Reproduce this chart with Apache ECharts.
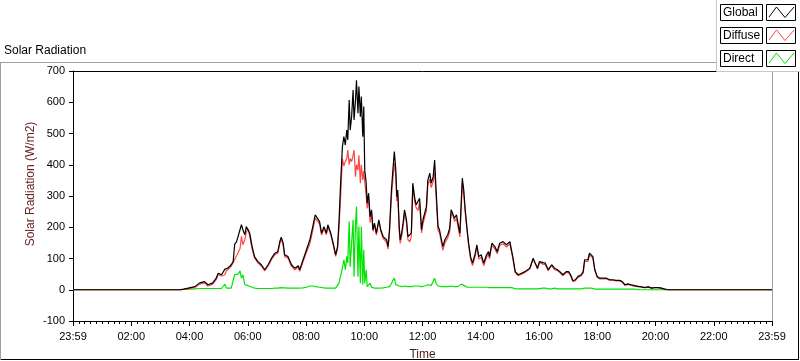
<!DOCTYPE html>
<html>
<head>
<meta charset="utf-8">
<script src="https://cdn.jsdelivr.net/npm/echarts@6/dist/echarts.min.js"></script>
<style>
html,body{margin:0;padding:0;background:#fff;}
#chart{width:800px;height:361px;}
</style>
</head>
<body>
<div id="chart"></div>
<script>
// Time of day in minutes after midnight
const timeMinutes = [
  0,220,228,237,251,261,271,278,288,295,
  299,306,313,316,319,326,330,333,337,341,
  344,347,350,354,357,361,364,369,374,381,
  388,395,402,409,416,422,426,429,433,436,
  443,450,457,464,467,474,481,488,494,499,
  503,508,512,517,522,525,531,536,541,545,
  548,551,555,558,561,564,566,569,571,574,
  577,579,582,584,587,589,592,594,597,599,
  601,604,606,609,612,615,618,621,625,630,
  634,639,646,649,652,656,659,662,665,667,
  669,672,674,677,680,683,687,690,694,697,
  700,704,707,711,714,718,721,724,728,731,
  735,738,742,745,748,752,755,759,762,766,
  769,772,776,779,783,786,790,793,797,800,
  802,805,808,812,815,819,823,828,832,836,
  841,846,852,856,858,863,869,874,879,886,
  893,900,903,906,911,917,924,931,934,941,
  948,951,957,961,968,973,979,986,992,998,
  1003,1009,1016,1021,1025,1030,1035,1040,1047,1051,
  1054,1058,1061,1064,1068,1071,1075,1080,1085,1092,
  1099,1106,1112,1119,1126,1131,1137,1143,1150,1157,
  1164,1171,1178,1185,1192,1198,1205,1212,1219,1226,
  1247,1250,1253,1302,1305,1308,1368,1371,1374,1393,
  1396,1399,1440
];
const globalValues = [
  0,0,2,5,10,22,26,16,22,37,
  53,48,66,66,69,80,90,145,154,160,
  192,208,192,176,202,208,181,138,106,90,
  80,64,80,101,117,122,154,168,149,112,
  106,80,69,77,64,96,128,160,202,240,
  234,218,181,202,181,208,181,149,112,138,
  218,330,458,490,463,511,479,607,511,554,
  639,543,607,670,565,650,554,618,490,586,
  383,341,277,309,234,256,192,213,181,224,
  192,170,160,138,192,319,383,442,383,298,
  319,202,160,181,213,256,224,170,165,181,
  341,293,272,266,293,192,224,229,266,351,
  373,341,362,415,319,202,192,160,138,160,
  165,176,197,256,250,229,240,213,181,288,
  357,319,256,192,149,106,85,112,144,106,
  112,85,112,122,106,149,138,122,149,154,
  144,154,149,106,58,48,53,58,53,69,
  101,90,69,90,87,85,64,80,69,64,
  58,48,58,58,48,29,32,42,48,58,
  96,101,96,117,122,106,64,42,37,37,
  37,32,32,30,30,27,16,19,16,13,
  11,9,7,9,5,7,7,5,2,0,
  0,0,0,0,0,0,0,0,0,0,
  0,0,0
];
const diffuseValues = [
  0,0,1,3,7,18,22,12,18,33,
  49,44,48,61,65,75,80,97,109,109,
  131,171,144,160,184,195,171,130,101,86,
  76,60,76,97,112,117,148,161,142,106,
  101,75,64,72,59,90,120,148,190,230,
  226,210,175,196,176,203,176,144,107,130,
  197,288,420,396,410,420,447,400,420,410,
  430,447,362,400,383,430,341,400,351,380,
  345,300,260,295,215,245,187,208,175,219,
  187,164,152,130,182,299,353,405,367,284,
  307,190,148,171,201,244,214,160,153,171,
  329,281,262,254,281,182,212,217,252,335,
  355,327,346,378,299,190,182,150,126,150,
  153,166,185,244,236,219,228,203,169,270,
  337,305,246,184,141,98,77,104,136,98,
  104,77,104,114,99,142,131,115,142,147,
  137,147,142,100,55,45,50,55,50,66,
  98,87,66,87,82,80,61,77,64,61,
  55,45,55,55,45,26,29,39,45,53,
  91,96,91,112,117,101,62,40,35,35,
  35,30,30,28,28,25,14,17,14,11,
  10,9,7,9,5,7,7,5,2,0,
  0,0,0,0,0,0,0,0,0,0,
  0,0,0
];
const directValues = [
  0,0,1,2,3,4,4,4,4,4,
  4,4,18,5,4,5,10,48,45,51,
  61,37,48,16,18,13,10,8,5,4,
  4,4,4,4,5,5,6,7,7,6,
  5,5,5,5,5,6,8,12,12,10,
  8,8,6,6,5,5,5,5,5,8,
  21,42,70,96,64,106,85,218,74,149,
  224,42,213,266,42,202,21,202,16,128,
  21,64,10,12,21,8,5,5,6,5,
  5,6,8,8,10,20,30,37,16,14,
  12,12,12,10,12,12,10,10,12,10,
  12,12,10,12,12,10,12,12,14,16,
  18,14,16,37,20,12,10,10,12,10,
  12,10,12,12,14,10,12,10,12,18,
  20,14,10,8,8,8,8,8,8,8,
  8,8,8,8,7,7,7,7,7,7,
  7,7,7,6,3,3,3,3,3,3,
  3,3,3,3,5,5,3,3,5,3,
  3,3,3,3,3,3,3,3,3,5,
  5,5,5,5,5,5,2,2,2,2,
  2,2,2,2,2,2,2,2,2,2,
  0,0,0,0,0,0,0,0,0,0,
  0,3,0,0,3,0,0,2,0,0,
  2,0,0
];
const xTickLabels = ['23:59','02:00','04:00','06:00','08:00','10:00','12:00','14:00','16:00','18:00','20:00','22:00','23:59'];
const seriesNames = ['Global','Diffuse','Direct'];
const seriesColors = ['#000000','#ff4646','#00e400'];

const FONT = '"Liberation Sans", Arial, sans-serif';
const pairs = vals => timeMinutes.map((t, i) => [t, vals[i]]);

const chart = echarts.init(document.getElementById('chart'), null, {renderer: 'canvas'});

function legendRow(i) {
  const y0 = 4.5 + i * 23;
  return [
    {type: 'rect', shape: {x: 720.5, y: y0, width: 42, height: 16}, style: {fill: '#fff', stroke: '#000', lineWidth: 1}, z: 101},
    {type: 'text', x: 723, y: y0 + 8.5, style: {text: seriesNames[i], fill: '#000', font: '12px ' + FONT, verticalAlign: 'middle', align: 'left'}, z: 102},
    {type: 'rect', shape: {x: 766.5, y: y0, width: 29, height: 16}, style: {fill: '#fff', stroke: '#000', lineWidth: 1}, z: 101},
    {type: 'polyline', shape: {points: [[769, y0 + 12.5], [776.5, y0 + 2.5], [785, y0 + 13], [794, y0 + 2.5]]}, style: {stroke: seriesColors[i], lineWidth: 1, fill: null}, z: 102}
  ];
}

const option = {
  animation: false,
  backgroundColor: '#ffffff',
  textStyle: {fontFamily: FONT},
  grid: {left: 73, right: 28, top: 71, bottom: 40, containLabel: false, outerBoundsMode: 'none'},
  xAxis: [
    {
      type: 'value', min: 0, max: 1440, interval: 120, position: 'bottom',
      name: 'Time', nameLocation: 'middle', nameGap: 28,
      nameTextStyle: {color: '#4a1c1c', fontSize: 12, fontFamily: FONT},
      axisLine: {show: true, onZero: false, lineStyle: {color: '#000', width: 1}},
      axisTick: {show: true, length: 5, lineStyle: {color: '#000'}},
      minorTick: {show: true, splitNumber: 10, length: 3, lineStyle: {color: '#000'}},
      axisLabel: {fontSize: 11, color: '#000', margin: 10, fontFamily: FONT,
        formatter: v => xTickLabels[Math.round(v / 120)]},
      splitLine: {show: false}, minorSplitLine: {show: false}
    },
    {
      type: 'value', min: 0, max: 1440, position: 'top',
      axisLine: {show: true, onZero: false, lineStyle: {color: '#000', width: 1}},
      axisTick: {show: false}, axisLabel: {show: false}, splitLine: {show: false}
    }
  ],
  yAxis: [
    {
      type: 'value', min: -100, max: 700, interval: 100,
      axisLine: {show: true, onZero: false, lineStyle: {color: '#000', width: 1}},
      axisTick: {show: true, length: 4, lineStyle: {color: '#000'}},
      axisLabel: {fontSize: 11, color: '#000', margin: 8, fontFamily: FONT},
      splitLine: {show: false}
    },
    {
      type: 'value', min: -100, max: 700, position: 'right',
      axisLine: {show: true, onZero: false, lineStyle: {color: '#a0a0a0', width: 1}},
      axisTick: {show: false}, axisLabel: {show: false}, splitLine: {show: false}
    }
  ],
  series: [
    {name: 'Direct', type: 'line', data: pairs(directValues), showSymbol: false, symbol: 'none',
     lineStyle: {color: seriesColors[2], width: 1.2}, itemStyle: {color: seriesColors[2]}, xAxisIndex: 0, yAxisIndex: 0, z: 2},
    {name: 'Diffuse', type: 'line', data: pairs(diffuseValues), showSymbol: false, symbol: 'none',
     lineStyle: {color: seriesColors[1], width: 1.2}, itemStyle: {color: seriesColors[1]}, xAxisIndex: 0, yAxisIndex: 0, z: 3},
    {name: 'Global', type: 'line', data: pairs(globalValues), showSymbol: false, symbol: 'none',
     lineStyle: {color: seriesColors[0], width: 1.2}, itemStyle: {color: seriesColors[0]}, xAxisIndex: 0, yAxisIndex: 0, z: 4}
  ],
  graphic: [
    // outer frame
    {type: 'line', shape: {x1: 0, y1: 62.5, x2: 717, y2: 62.5}, style: {stroke: '#a0a0a0', lineWidth: 1}, z: 50},
    {type: 'line', shape: {x1: 0.5, y1: 62, x2: 0.5, y2: 360}, style: {stroke: '#a0a0a0', lineWidth: 1}, z: 50},
    {type: 'line', shape: {x1: 1, y1: 359.5, x2: 799, y2: 359.5}, style: {stroke: '#000', lineWidth: 1}, z: 50},
    {type: 'line', shape: {x1: 798.5, y1: 72, x2: 798.5, y2: 360}, style: {stroke: '#000', lineWidth: 1}, z: 50},
    // chart title
    {type: 'text', x: 4, y: 51, style: {text: 'Solar Radiation', fill: '#000', font: '12px ' + FONT, verticalAlign: 'middle'}, z: 60},
    // y axis name
    {type: 'text', x: 31, y: 184, rotation: Math.PI / 2,
     style: {text: 'Solar Radiation (W/m2)', fill: '#6b2222', font: '12px ' + FONT, align: 'center', verticalAlign: 'middle'}, z: 60},
    // legend panel
    {type: 'rect', shape: {x: 716.5, y: -1, width: 90, height: 72.5}, style: {fill: '#fff', stroke: '#c8c8c8', lineWidth: 1}, z: 100},
    ...legendRow(0), ...legendRow(1), ...legendRow(2)
  ]
};
chart.setOption(option);
</script>
</body>
</html>
